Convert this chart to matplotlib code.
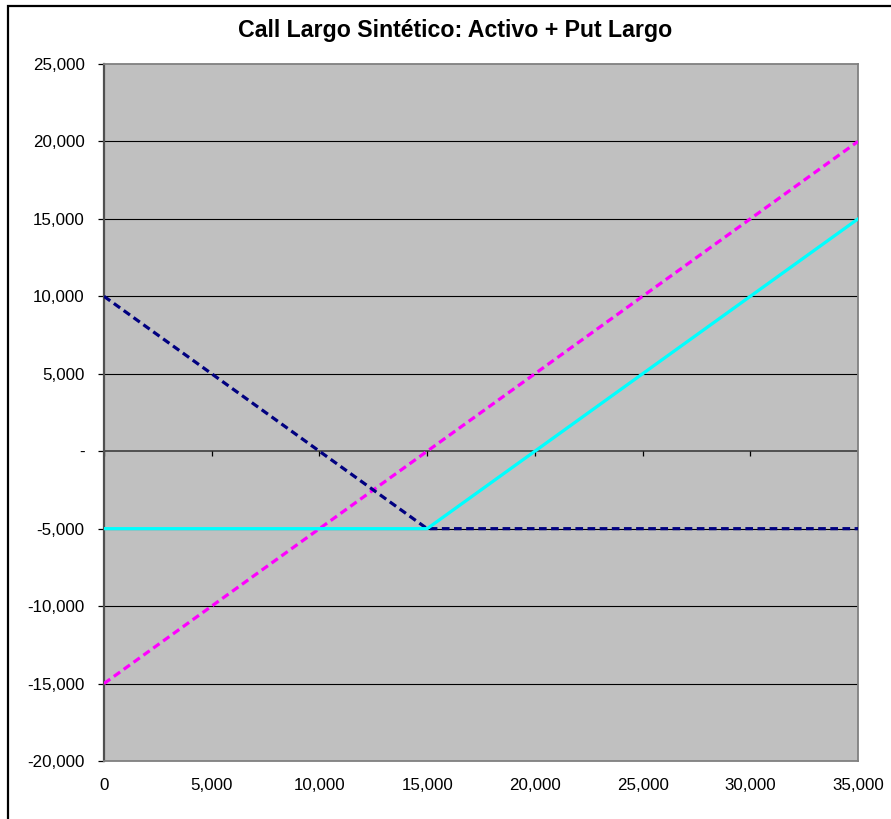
import matplotlib
matplotlib.use("Agg")
import matplotlib.pyplot as plt
from matplotlib.patches import Rectangle
from matplotlib.ticker import FuncFormatter

# Payoff profiles at expiry (strike 15,000)
precio = [0, 5000, 10000, 15000, 20000, 25000, 30000, 35000]
activo = [-15000, -10000, -5000, 0, 5000, 10000, 15000, 20000]
put_largo = [10000, 5000, 0, -5000, -5000, -5000, -5000, -5000]
call_sintetico = [-5000, -5000, -5000, -5000, 0, 5000, 10000, 15000]

y_ticks = [-20000, -15000, -10000, -5000, 0, 5000, 10000, 15000, 20000, 25000]
x_ticks = [0, 5000, 10000, 15000, 20000, 25000, 30000, 35000]
titulo = "Call Largo Sintético: Activo + Put Largo"

plt.rcParams["font.family"] = ["Liberation Sans", "DejaVu Sans"]

W, H = 891, 819
fig = plt.figure(figsize=(W / 100, H / 100), dpi=100)
fig.patch.set_facecolor("white")

# chart frame
fig.add_artist(Rectangle((7.5 / W, -0.05), 1.0, 1 - 6.0 / H + 0.05,
                         transform=fig.transFigure, fill=False,
                         edgecolor="black", linewidth=1.6))

left, right, top, bottom = 104, 858, 64, 761
ax = fig.add_axes([left / W, (H - bottom) / H, (right - left) / W, (bottom - top) / H])
ax.set_facecolor("#C0C0C0")
ax.set_xlim(0, 35000)
ax.set_ylim(-20000, 25000)

# horizontal gridlines
for yv in y_ticks[1:-1]:
    if yv != 0:
        ax.axhline(yv, color="black", linewidth=0.8, zorder=1)

# horizontal axis through zero, with its tick marks
ax.axhline(0, color="#505050", linewidth=1.4, zorder=1)
ax.vlines(x_ticks, -330, 0, color="black", linewidth=0.9, zorder=1)

dash = (2.4, 1.4)
ax.plot(precio, activo, color="#FF00FF", linewidth=2.3, linestyle=(0, dash),
        dash_capstyle="butt", zorder=3)
ax.plot(precio, put_largo, color="#000080", linewidth=2.3, linestyle=(0, dash),
        dash_capstyle="butt", zorder=3)
ax.plot(precio, call_sintetico, color="#00FFFF", linewidth=2.3, zorder=4)

for s in ["top", "right", "bottom"]:
    ax.spines[s].set_color("#808080")
    ax.spines[s].set_linewidth(1.3)
ax.spines["left"].set_color("#505050")
ax.spines["left"].set_linewidth(1.6)


def fmt_y(v, pos):
    if v == 0:
        return "-"
    return f"{v:,.0f}"


ax.set_yticks(y_ticks)
ax.yaxis.set_major_formatter(FuncFormatter(fmt_y))
ax.tick_params(axis="y", direction="out", length=4, width=0.9, color="black",
               pad=10, labelsize=12.2, labelcolor="black")

ax.set_xticks(x_ticks)
ax.set_xticklabels([f"{v:,.0f}" for v in x_ticks])
ax.tick_params(axis="x", length=0, pad=12, labelsize=12.2, labelcolor="black")

fig.text(455.5 / W, 1 - 30 / H, titulo, ha="center", va="center",
         fontsize=16.7, fontweight="bold", color="black")

fig.savefig("out.png", dpi=100)
